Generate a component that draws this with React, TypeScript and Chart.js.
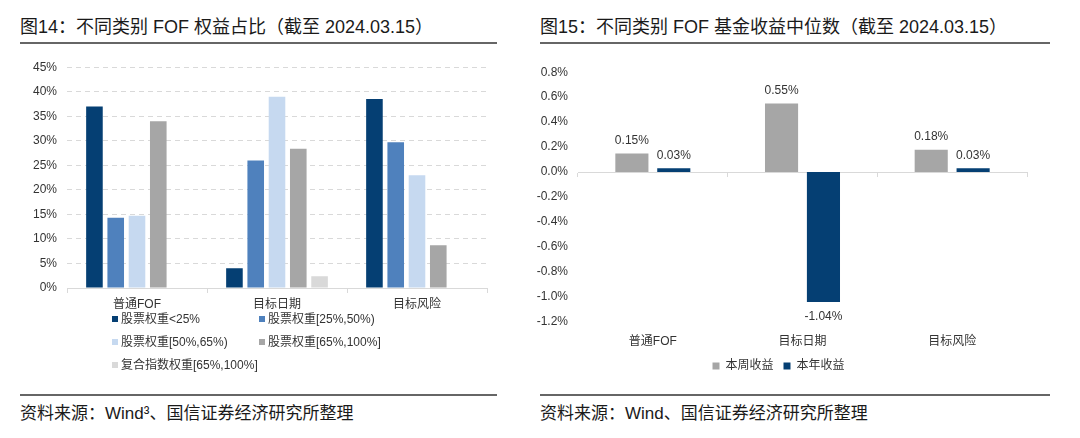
import React, { useEffect, useRef } from "react";
import { Chart, registerables } from "chart.js";

Chart.register(...registerables);

// ---------- Data: 图14 ----------
const leftCategories = ["普通FOF", "目标日期", "目标风险"];
const leftSeriesNames = [
  "股票权重<25%",
  "股票权重[25%,50%)",
  "股票权重[50%,65%)",
  "股票权重[65%,100%]",
  "复合指数权重[65%,100%]",
];
const equityBelow25 = [37.0, 4.0, 38.5];
const equity25to50 = [14.3, 26.0, 29.7];
const equity50to65 = [14.7, 39.0, 23.0];
const equity65to100 = [34.0, 28.4, 8.7];
const compositeIndex65to100 = [null, 2.4, null];
const leftColors = ["#053F73", "#4F81BD", "#C6D9F0", "#A6A6A6", "#D9D9D9"];

// ---------- Data: 图15 ----------
const rightCategories = ["普通FOF", "目标日期", "目标风险"];
const rightSeriesNames = ["本周收益", "本年收益"];
const weeklyReturn = [0.15, 0.55, 0.18];
const ytdReturn = [0.03, -1.04, 0.03];
const rightColors = ["#A6A6A6", "#053F73"];

const NUM_FONT = '"Liberation Sans", Arial, "Noto Sans CJK SC", sans-serif';
const CJK_FONT = '"Liberation Sans", "Noto Sans CJK SC", sans-serif';
const TEXT_COLOR = "#333333";

const valueLabelPlugin = {
  id: "valueLabels",
  afterDatasetsDraw(chart: any) {
    const ctx = chart.ctx;
    ctx.save();
    ctx.font = "12px " + NUM_FONT;
    ctx.fillStyle = TEXT_COLOR;
    ctx.textAlign = "center";
    ctx.textBaseline = "middle";
    chart.data.datasets.forEach((ds: any, di: number) => {
      const meta = chart.getDatasetMeta(di);
      meta.data.forEach((bar: any, i: number) => {
        const v = ds.data[i];
        if (v === null || v === undefined) return;
        const txt = v.toFixed(2) + "%";
        if (v >= 0) ctx.fillText(txt, bar.x, bar.y - 13);
        else ctx.fillText(txt, bar.x, bar.y + 15);
      });
    });
    ctx.restore();
  },
};

function LeftChart() {
  const ref = useRef<HTMLCanvasElement | null>(null);
  useEffect(() => {
    if (!ref.current) return;
    const series = [equityBelow25, equity25to50, equity50to65, equity65to100, compositeIndex65to100];
    const chart = new Chart(ref.current, {
      type: "bar",
      data: {
        labels: leftCategories,
        datasets: series.map((d, i) => ({
          label: leftSeriesNames[i],
          data: d as any,
          backgroundColor: leftColors[i],
          borderWidth: 0,
          barPercentage: 0.78,
          categoryPercentage: 0.76,
        })),
      },
      options: {
        responsive: false,
        animation: false,
        layout: { padding: { top: 17, right: 13, left: 0, bottom: 0 } },
        plugins: { legend: { display: false }, tooltip: { enabled: false } },
        scales: {
          x: {
            type: "category",
            offset: true,
            grid: {
              display: true,
              drawOnChartArea: false,
              drawTicks: true,
              tickLength: 5,
              color: "#D9D9D9",
              offset: true,
            },
            border: { display: true, color: "#D9D9D9" },
            ticks: { padding: 4, color: TEXT_COLOR, font: { family: CJK_FONT, size: 12 } },
            afterFit: (s: any) => {
              s.height = 24;
            },
          },
          y: {
            min: 0,
            max: 45,
            ticks: {
              stepSize: 5,
              padding: 10,
              color: TEXT_COLOR,
              font: { family: NUM_FONT, size: 12 },
              callback: (v: any) => v + "%",
            },
            grid: { color: "#D9D9D9", drawTicks: false },
            border: { display: false, dash: [5, 4] },
            afterFit: (s: any) => {
              s.width = 47;
            },
          },
        },
      },
    });
    return () => chart.destroy();
  }, []);
  return <canvas ref={ref} width={480} height={262} style={{ width: 480, height: 262 }} />;
}

function RightChart() {
  const ref = useRef<HTMLCanvasElement | null>(null);
  useEffect(() => {
    if (!ref.current) return;
    const series = [weeklyReturn, ytdReturn];
    const chart = new Chart(ref.current, {
      type: "bar",
      data: {
        labels: rightCategories,
        datasets: series.map((d, i) => ({
          label: rightSeriesNames[i],
          data: d,
          backgroundColor: rightColors[i],
          borderWidth: 0,
          barPercentage: 0.79,
          categoryPercentage: 0.56,
        })),
      },
      options: {
        responsive: false,
        animation: false,
        layout: { padding: { top: 17, right: 13, left: 0, bottom: 5 } },
        plugins: {
          tooltip: { enabled: false },
          legend: {
            display: true,
            position: "bottom",
            labels: {
              boxWidth: 7,
              boxHeight: 7,
              padding: 10,
              color: TEXT_COLOR,
              font: { family: CJK_FONT, size: 12 },
            },
          },
        },
        scales: {
          x: {
            type: "category",
            offset: true,
            grid: { display: false, drawTicks: false },
            border: { display: false },
            ticks: { padding: 12, color: TEXT_COLOR, font: { family: CJK_FONT, size: 12 } },
            afterFit: (s: any) => {
              s.height = 28;
            },
          },
          x2: {
            type: "category",
            position: { y: 0 } as any,
            offset: true,
            grid: {
              display: true,
              drawOnChartArea: false,
              drawTicks: true,
              tickLength: 4,
              color: "#D9D9D9",
              offset: true,
            },
            border: { display: true, color: "#D9D9D9" },
            ticks: { display: false },
            afterFit: (s: any) => {
              s.height = 0;
            },
          },
          y: {
            min: -1.2,
            max: 0.8,
            ticks: {
              stepSize: 0.2,
              padding: 10,
              color: TEXT_COLOR,
              font: { family: NUM_FONT, size: 12 },
              callback: (v: any) => {
                const n = Number(v);
                return (Math.abs(n) < 1e-9 ? 0 : n).toFixed(1) + "%";
              },
            },
            grid: { display: false, drawTicks: false },
            border: { display: false },
            afterFit: (s: any) => {
              s.width = 48;
            },
          },
        },
      },
      plugins: [valueLabelPlugin],
    });
    return () => chart.destroy();
  }, []);
  return <canvas ref={ref} width={510} height={332} style={{ width: 510, height: 332 }} />;
}

const titleStyle: React.CSSProperties = {
  position: "absolute",
  top: 15,
  fontFamily: CJK_FONT,
  fontSize: 18,
  lineHeight: "24px",
  color: "#1a1a1a",
  whiteSpace: "nowrap",
};
const sourceStyle: React.CSSProperties = {
  position: "absolute",
  top: 402,
  fontFamily: CJK_FONT,
  fontSize: 17,
  lineHeight: "24px",
  color: "#1a1a1a",
  whiteSpace: "nowrap",
};
const ruleStyle: React.CSSProperties = {
  position: "absolute",
  height: 2,
  background: "#666666",
};

export default function App() {
  return (
    <div
      style={{
        position: "absolute",
        left: 0,
        top: 0,
        width: 1080,
        height: 438,
        background: "#ffffff",
        overflow: "hidden",
      }}
    >
      {/* Left panel */}
      <div style={{ ...titleStyle, left: 20 }}>图14：不同类别 FOF 权益占比（截至 2024.03.15）</div>
      <div style={{ ...ruleStyle, left: 20, top: 42, width: 477 }} />
      <div style={{ position: "absolute", left: 20, top: 50 }}>
        <LeftChart />
      </div>
      <div
        style={{
          position: "absolute",
          left: 112,
          top: 311,
          display: "grid",
          gridTemplateColumns: "147px 160px",
          rowGap: 7,
          fontFamily: CJK_FONT,
          fontSize: 12,
          lineHeight: "16px",
          color: TEXT_COLOR,
        }}
      >
        {leftSeriesNames.map((name, i) => (
          <div key={name} style={{ display: "flex", alignItems: "center", whiteSpace: "nowrap" }}>
            <span
              style={{
                display: "inline-block",
                width: 6,
                height: 6,
                background: leftColors[i],
                marginRight: 3,
              }}
            />
            {name}
          </div>
        ))}
      </div>
      <div style={{ ...ruleStyle, left: 20, top: 394, width: 477 }} />
      <div style={{ ...sourceStyle, left: 20 }}>资料来源：Wind³、国信证券经济研究所整理</div>

      {/* Right panel */}
      <div style={{ ...titleStyle, left: 540 }}>图15：不同类别 FOF 基金收益中位数（截至 2024.03.15）</div>
      <div style={{ ...ruleStyle, left: 540, top: 42, width: 510 }} />
      <div style={{ position: "absolute", left: 530, top: 55 }}>
        <RightChart />
      </div>
      <div style={{ ...ruleStyle, left: 540, top: 394, width: 510 }} />
      <div style={{ ...sourceStyle, left: 540 }}>资料来源：Wind、国信证券经济研究所整理</div>
    </div>
  );
}
